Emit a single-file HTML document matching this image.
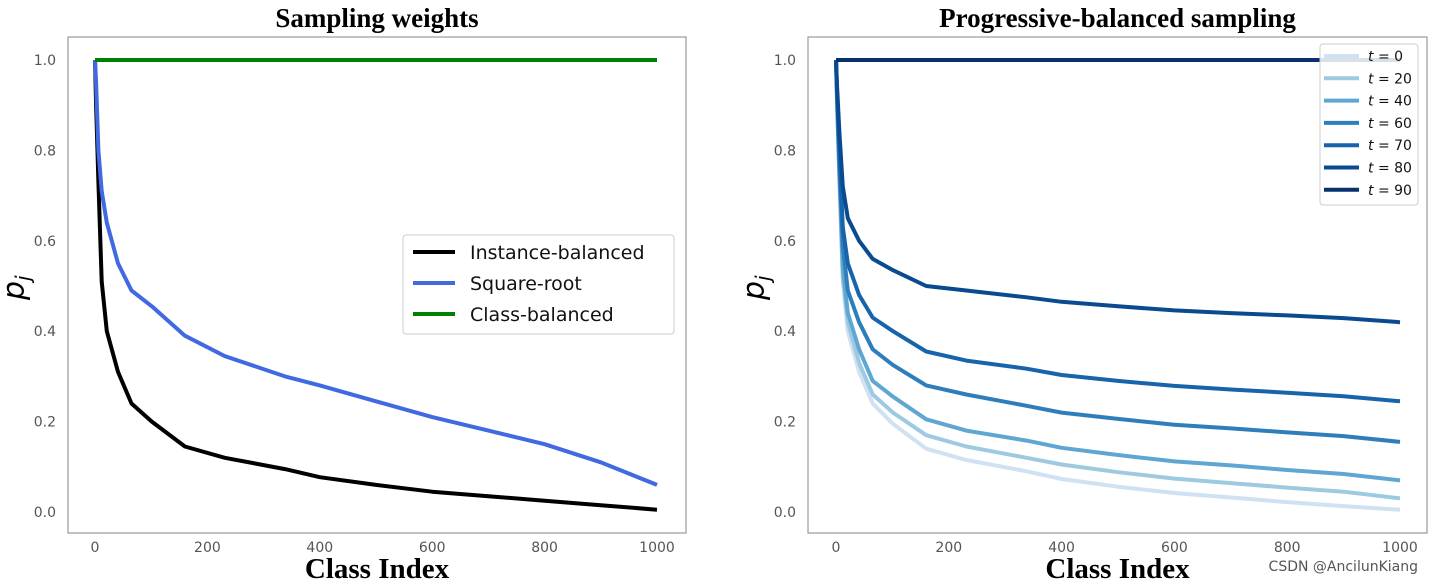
<!DOCTYPE html>
<html><head><meta charset="utf-8"><style>
body{margin:0;background:#fff;width:1433px;height:583px;overflow:hidden}
svg{display:block}
.tick{font-family:"DejaVu Sans","Liberation Sans",sans-serif;font-size:14px;fill:#555}
.title{font-family:"Liberation Serif",serif;font-weight:bold;font-size:27px;fill:#000}
.xl{font-family:"Liberation Serif",serif;font-weight:bold;font-size:29px;fill:#000}
.yl{font-family:"DejaVu Sans",sans-serif;font-style:italic;font-size:30px;fill:#000}
.lg{font-family:"DejaVu Sans","Liberation Sans",sans-serif;font-size:19px;fill:#111}
.lg2{font-family:"DejaVu Sans","Liberation Sans",sans-serif;font-size:14px;fill:#111}
</style></head><body>
<svg id="chart" width="1433" height="583"></svg>
<script>
const xs=[0,2,6,12,21,41,65,101,160,231,338,400,500,600,700,800,900,1000];
const instance=[1.0,0.9,0.73,0.51,0.40,0.31,0.24,0.20,0.145,0.12,0.095,0.077,0.06,0.045,0.035,0.025,0.015,0.005];
const sqrtRoot=[1.0,0.95,0.80,0.71,0.64,0.55,0.49,0.455,0.39,0.345,0.30,0.28,0.245,0.21,0.18,0.15,0.11,0.06];
const classBal=[1,1,1,1,1,1,1,1,1,1,1,1,1,1,1,1,1,1];
const t0=[1.0,0.9,0.73,0.51,0.40,0.31,0.24,0.195,0.14,0.115,0.09,0.073,0.056,0.042,0.032,0.022,0.013,0.005];
const t20=[1,0.90,0.74,0.52,0.42,0.33,0.26,0.22,0.17,0.145,0.12,0.105,0.088,0.074,0.064,0.054,0.045,0.03];
const t40=[1,0.91,0.75,0.54,0.44,0.36,0.29,0.255,0.205,0.18,0.158,0.142,0.126,0.112,0.103,0.093,0.084,0.07];
const t60=[1,0.92,0.77,0.59,0.49,0.42,0.36,0.325,0.28,0.26,0.235,0.22,0.206,0.193,0.185,0.176,0.168,0.155];
const t70=[1,0.93,0.8,0.63,0.55,0.48,0.43,0.40,0.355,0.335,0.317,0.303,0.29,0.279,0.271,0.264,0.256,0.245];
const t80=[1,0.94,0.84,0.72,0.65,0.60,0.56,0.535,0.50,0.49,0.475,0.465,0.455,0.446,0.44,0.435,0.429,0.42];
const t90=[1,1,1,1,1,1,1,1,1,1,1,1,1,1,1,1,1,1];
const xTicks=[0,200,400,600,800,1000];
const yTicks=[0.0,0.2,0.4,0.6,0.8,1.0];
const leftLegend=["Instance-balanced","Square-root","Class-balanced"];
const rightLegend=["t = 0","t = 20","t = 40","t = 60","t = 70","t = 80","t = 90"];
const NS="http://www.w3.org/2000/svg";
const svg=document.getElementById('chart');
function el(tag,attrs,parent){const e=document.createElementNS(NS,tag);for(const k in attrs)e.setAttribute(k,attrs[k]);(parent||svg).appendChild(e);return e;}
function panel(name,fx,fw,x0px,x1px,title,series,colors,widths){
  const g=el('g',{});
  
  
  const X=v=>x0px+(x1px-x0px)*v/1000, Y=v=>512-452*v;
  const fr=el('rect',{x:fx,y:37,width:fw,height:496,fill:'none',stroke:'#999','stroke-width':1.2},g);
  
  
  const tt=el('text',{x:fx+fw/2,y:27,'text-anchor':'middle',class:'title'},g);tt.textContent=title;
  
  
  xTicks.forEach(v=>{const t=el('text',{x:X(v),y:552,'text-anchor':'middle',class:'tick'},g);t.textContent=v;
    
    });
  yTicks.forEach(v=>{const t=el('text',{x:fx-12,y:Y(v)+5,'text-anchor':'end',class:'tick'},g);t.textContent=v.toFixed(1);
    
    });
  const xl=el('text',{x:fx+fw/2,y:578,'text-anchor':'middle',class:'xl'},g);xl.textContent='Class Index';
  
  
  const yl=el('text',{x:0,y:0,class:'yl',transform:`translate(${fx-44},300) rotate(-90)`},g);
  yl.innerHTML='p<tspan font-size="20" dy="6">j</tspan>';
  
  
  series.forEach((s,i)=>{
    const d=s.map((v,k)=>(k?'L':'M')+X(xs[k]).toFixed(1)+','+Y(v).toFixed(1)).join('');
    const p=el('path',{d:d,fill:'none',stroke:colors[i],'stroke-width':widths,'stroke-linejoin':'round'},g);
    
    
  });
  return g;
}
const g1=panel('left-panel',68,618,95,657,'Sampling weights',[instance,sqrtRoot,classBal],['#000','#4169e1','#008000'],4);
const g2=panel('right-panel',808,619,836,1400,'Progressive-balanced sampling',[t0,t20,t40,t60,t70,t80,t90],['#cfe1f2','#9ecae1','#5fa6d2','#2f7ebc','#1764ab','#0a4a90','#08306b'],4);
const lg=el('g',{});


el('rect',{x:403,y:235,width:271,height:99,rx:3,fill:'#fff',stroke:'#ccc'},lg);
['#000','#4169e1','#008000'].forEach((c,i)=>{
  el('line',{x1:413,x2:455,y1:252+i*31,y2:252+i*31,stroke:c,'stroke-width':4},lg);
  const t=el('text',{x:470,y:259+i*31,class:'lg'},lg);t.textContent=leftLegend[i];
  
  
});
const rg=el('g',{});


el('rect',{x:1320,y:44,width:98,height:161,rx:3,fill:'#fff','fill-opacity':0.85,stroke:'#ccc'},rg);
['#cfe1f2','#9ecae1','#5fa6d2','#2f7ebc','#1764ab','#0a4a90','#08306b'].forEach((c,i)=>{
  el('line',{x1:1324,x2:1359,y1:56+i*22.3,y2:56+i*22.3,stroke:c,'stroke-width':4},rg);
  const t=el('text',{x:1368,y:61+i*22.3,class:'lg2'},rg);
  t.innerHTML='<tspan font-style="italic">t</tspan> = '+rightLegend[i].split(' = ')[1];
  
  
});
const wm=el('text',{x:1418,y:571,'text-anchor':'end',class:'tick',fill:'#666'});
wm.textContent='CSDN @AncilunKiang';


</script>
</body></html>
